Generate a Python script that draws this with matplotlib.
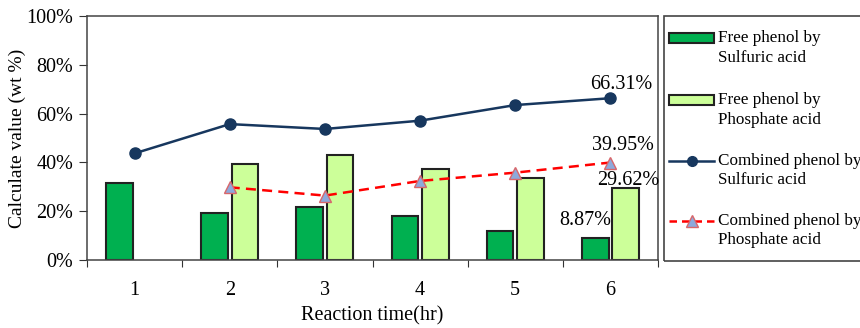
import numpy as np
import matplotlib.pyplot as plt
from matplotlib.patches import Rectangle
from matplotlib.lines import Line2D

plt.rcParams['font.family'] = ['Liberation Serif', 'DejaVu Serif']

horas = [1, 2, 3, 4, 5, 6]
libre_sulf = [31.5, 19.4, 21.9, 18.2, 12.0, 8.87]
libre_fosf = [np.nan, 39.3, 43.0, 37.2, 33.5, 29.62]
comb_sulf = [43.7, 55.7, 53.7, 57.1, 63.5, 66.31]
comb_fosf = [np.nan, 29.8, 26.4, 32.4, 35.8, 39.95]

nombres = [("Free phenol by", "Sulfuric acid"), ("Free phenol by", "Phosphate acid"),
           ("Combined phenol by", "Sulfuric acid"), ("Combined phenol by", "Phosphate acid")]

W, H = 860, 328
fig = plt.figure(figsize=(8.6, 3.28), dpi=100)
ax = fig.add_axes([87 / W, 1 - 260 / H, (658 - 87) / W, 244 / H])

x = np.array(horas)
ancho = 0.28
ax.bar(x - 0.16, libre_sulf, ancho, color='#00B050', edgecolor='#222222', linewidth=1.5, zorder=2)
ax.bar(x + 0.16, libre_fosf, ancho, color='#CCFF99', edgecolor='#222222', linewidth=1.5, zorder=2)
ax.plot(x, comb_sulf, color='#17375E', lw=1.8, marker='o', ms=8, zorder=3)
ax.plot(x, comb_fosf, color='#FF0000', lw=1.8, ls=(0, (4, 2.5)), marker='^', ms=9,
        mfc='#8EA9DB', mec='#D9666A', mew=1, zorder=3)

fs = 14.5
ax.annotate("66.31%", (6, comb_sulf[5]), xytext=(11, 14), textcoords='offset pixels',
            ha='center', va='center', fontsize=fs)
ax.annotate("39.95%", (6, comb_fosf[5]), xytext=(13, 17), textcoords='offset pixels',
            ha='center', va='center', fontsize=fs)
ax.annotate("29.62%", (6.16, libre_fosf[5]), xytext=(3, 7), textcoords='offset pixels',
            ha='center', va='center', fontsize=fs)
ax.annotate("8.87%", (5.84, libre_sulf[5]), xytext=(-10, 18), textcoords='offset pixels',
            ha='center', va='center', fontsize=fs)

ax.set_xlim(0.5, 6.5)
ax.set_ylim(0, 100)
ax.set_xticks(np.arange(0.5, 7, 1))
ax.set_xticklabels([])
ax.set_xticks(x, minor=True)
ax.set_xticklabels([str(h) for h in horas], minor=True, fontsize=fs)
ax.tick_params(axis='x', which='minor', length=0, pad=15)
ax.tick_params(axis='x', which='major', length=5, direction='out', color='#333333')
ax.set_yticks(np.arange(0, 101, 20))
ax.set_yticklabels([f"{v}%" for v in range(0, 101, 20)], fontsize=fs)
ax.tick_params(axis='y', length=6, direction='out', color='#333333', pad=4)
for s in ax.spines.values():
    s.set_color('#444444')
    s.set_linewidth(1.1)
ax.set_xlabel("Reaction time(hr)", fontsize=fs)
ax.xaxis.set_label_coords(0.5, -0.188)
ax.set_ylabel("Calculate value (wt %)", fontsize=14)
ax.yaxis.set_label_coords(-0.122, 0.5)
ax.yaxis.label.set_va('center')

# leyenda dibujada a mano (el manejador va junto a la primera linea)
fig.add_artist(Rectangle((664 / W, 1 - 261 / H), 0.3, 245 / H, fill=False,
                         edgecolor='#444444', lw=1.2, transform=fig.transFigure))
filas = [38, 100, 161, 221]
x0, x1 = 669 / W, 714 / W
for i, yp in enumerate(filas):
    fy = 1 - yp / H
    if i < 2:
        color = '#00B050' if i == 0 else '#CCFF99'
        fig.add_artist(Rectangle((x0, fy - 5 / H), x1 - x0, 10 / H, facecolor=color,
                                 edgecolor='#222222', lw=1.5, transform=fig.transFigure))
    elif i == 2:
        fig.add_artist(Line2D([x0, (x0 + x1) / 2, x1], [fy] * 3, color='#17375E', lw=1.8,
                              marker='o', ms=7, markevery=[1], transform=fig.transFigure))
    else:
        fig.add_artist(Line2D([x0, (x0 + x1) / 2, x1], [fy] * 3, color='#FF0000', lw=1.8,
                              ls=(0, (3, 2)), marker='^', ms=8, markevery=[1],
                              mfc='#8EA9DB', mec='#D9666A', transform=fig.transFigure))
    fig.text(718 / W, fy, nombres[i][0], fontsize=12.3, va='center', ha='left')
    fig.text(718 / W, fy - 19.5 / H, nombres[i][1], fontsize=12.3, va='center', ha='left')

fig.savefig("out.png", dpi=100)
